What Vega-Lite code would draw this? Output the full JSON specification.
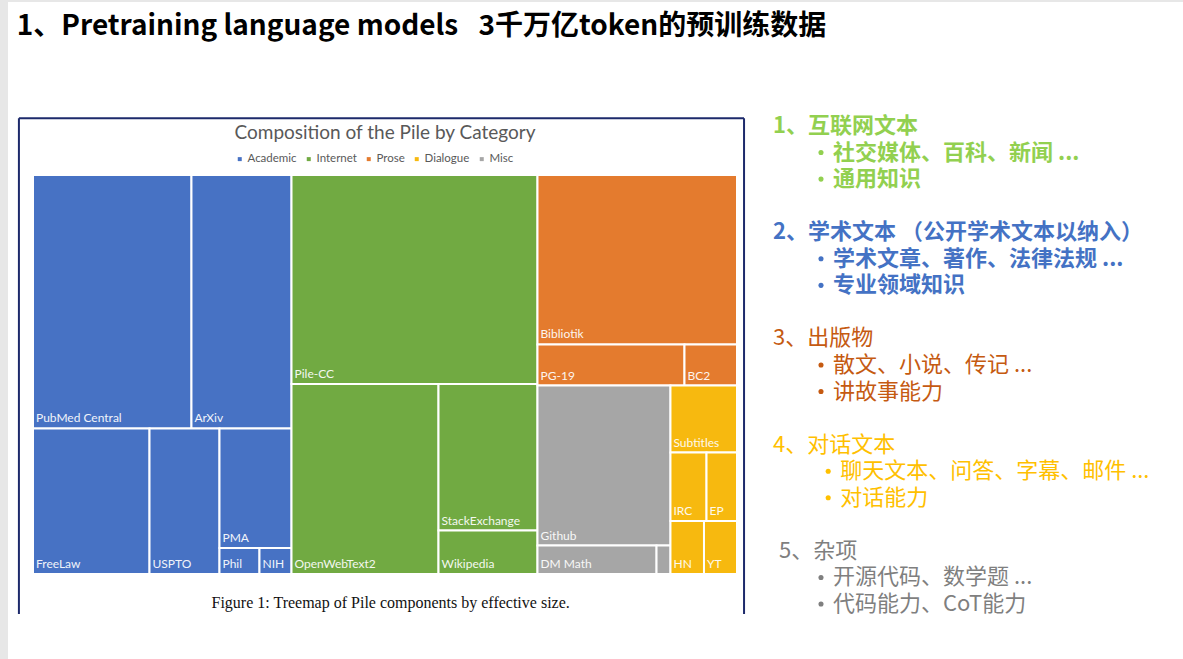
{
  "$schema": "https://vega.github.io/schema/vega-lite/v6.json",
  "width": 1183,
  "height": 659,
  "autosize": {"type": "fit", "contains": "padding"},
  "padding": {"left": 8, "top": 2, "right": 0, "bottom": 0},
  "background": "#e7e7e7",
  "config": {"view": {"stroke": null, "fill": "white"}},
  "datasets": {
    "cells": [
      {"name": "PubMed Central", "cat": "Academic", "x0": 0, "x1": 22.51, "y0": 0, "y1": 63.53},
      {"name": "ArXiv", "cat": "Academic", "x0": 22.51, "x1": 36.72, "y0": 0, "y1": 63.53},
      {"name": "FreeLaw", "cat": "Academic", "x0": 0, "x1": 16.55, "y0": 63.53, "y1": 100},
      {"name": "USPTO", "cat": "Academic", "x0": 16.55, "x1": 26.49, "y0": 63.53, "y1": 100},
      {"name": "PMA", "cat": "Academic", "x0": 26.49, "x1": 36.72, "y0": 63.53, "y1": 93.48},
      {"name": "Phil", "cat": "Academic", "x0": 26.49, "x1": 32.17, "y0": 93.48, "y1": 100},
      {"name": "NIH", "cat": "Academic", "x0": 32.17, "x1": 36.72, "y0": 93.48, "y1": 100},
      {"name": "Pile-CC", "cat": "Internet", "x0": 36.72, "x1": 71.66, "y0": 0, "y1": 52.38},
      {"name": "OpenWebText2", "cat": "Internet", "x0": 36.72, "x1": 57.6, "y0": 52.38, "y1": 100},
      {"name": "StackExchange", "cat": "Internet", "x0": 57.6, "x1": 71.66, "y0": 52.38, "y1": 89.1},
      {"name": "Wikipedia", "cat": "Internet", "x0": 57.6, "x1": 71.66, "y0": 89.1, "y1": 100},
      {"name": "Bibliotik", "cat": "Prose", "x0": 71.66, "x1": 100, "y0": 0, "y1": 42.48},
      {"name": "PG-19", "cat": "Prose", "x0": 71.66, "x1": 92.54, "y0": 42.48, "y1": 52.76},
      {"name": "BC2", "cat": "Prose", "x0": 92.54, "x1": 100, "y0": 42.48, "y1": 52.76},
      {"name": "Github", "cat": "Misc", "x0": 71.66, "x1": 90.55, "y0": 52.76, "y1": 92.86},
      {"name": "DM Math", "cat": "Misc", "x0": 71.66, "x1": 88.57, "y0": 92.86, "y1": 100},
      {"name": "", "cat": "Misc", "x0": 88.57, "x1": 90.55, "y0": 92.86, "y1": 100},
      {"name": "Subtitles", "cat": "Dialogue", "x0": 90.55, "x1": 100, "y0": 52.76, "y1": 69.55},
      {"name": "IRC", "cat": "Dialogue", "x0": 90.55, "x1": 95.67, "y0": 69.55, "y1": 86.72},
      {"name": "EP", "cat": "Dialogue", "x0": 95.67, "x1": 100, "y0": 69.55, "y1": 86.72},
      {"name": "HN", "cat": "Dialogue", "x0": 90.55, "x1": 95.31, "y0": 86.72, "y1": 100},
      {"name": "YT", "cat": "Dialogue", "x0": 95.31, "x1": 100, "y0": 86.72, "y1": 100}
    ],
    "notes": [
      {"grp": 1, "line": 0, "ind": 0, "txt": "1、互联网文本"},
      {"grp": 1, "line": 1, "ind": 1, "txt": "社交媒体、百科、新闻 ..."},
      {"grp": 1, "line": 2, "ind": 1, "txt": "通用知识"},
      {"grp": 2, "line": 4, "ind": 0, "txt": "2、学术文本 （公开学术文本以纳入）"},
      {"grp": 2, "line": 5, "ind": 1, "txt": "学术文章、著作、法律法规 ..."},
      {"grp": 2, "line": 6, "ind": 1, "txt": "专业领域知识"},
      {"grp": 3, "line": 8, "ind": 0, "txt": "3、出版物"},
      {"grp": 3, "line": 9, "ind": 1, "txt": "散文、小说、传记 ..."},
      {"grp": 3, "line": 10, "ind": 1, "txt": "讲故事能力"},
      {"grp": 4, "line": 12, "ind": 0, "txt": "4、对话文本"},
      {"grp": 4, "line": 13, "ind": 1.12, "txt": "聊天文本、问答、字幕、邮件 ..."},
      {"grp": 4, "line": 14, "ind": 1.12, "txt": "对话能力"},
      {"grp": 5, "line": 16, "ind": 0.1, "txt": "5、杂项"},
      {"grp": 5, "line": 17, "ind": 1, "txt": "开源代码、数学题 ..."},
      {"grp": 5, "line": 18, "ind": 1, "txt": "代码能力、CoT能力"}
    ]
  },
  "layer": [
    {
      "layer": [
        {
          "data": {"name": "cells"},
          "mark": {"type": "rect", "stroke": "white", "strokeWidth": 2},
          "encoding": {
            "x": {"field": "x0", "type": "quantitative", "scale": {"domain": [0, 100], "range": [25, 729], "nice": false, "zero": false}, "axis": null},
            "x2": {"field": "x1"},
            "y": {"field": "y0", "type": "quantitative", "scale": {"domain": [0, 100], "range": [173, 572], "nice": false, "zero": false}, "axis": null},
            "y2": {"field": "y1"},
            "color": {
              "field": "cat",
              "type": "nominal",
              "scale": {"domain": ["Academic", "Internet", "Prose", "Dialogue", "Misc"], "range": ["#4772C4", "#71AA42", "#E47B2E", "#F7B90F", "#A6A6A6"]},
              "legend": {
                "orient": "none",
                "legendX": 226,
                "legendY": 151,
                "direction": "horizontal",
                "title": null,
                "symbolType": "square",
                "symbolSize": 16,
                "symbolStrokeWidth": 0,
                "labelFont": "Lato",
                "labelFontSize": 11.5,
                "labelColor": "#595959",
                "labelOffset": 2,
                "columnPadding": 6
              }
            }
          }
        },
        {
          "data": {"name": "cells"},
          "mark": {"type": "text", "align": "left", "baseline": "alphabetic", "dx": 3, "dy": -6, "font": "Lato", "fontSize": 12, "color": "white", "opacity": 0.92},
          "encoding": {
            "x": {"field": "x0", "type": "quantitative", "scale": {"domain": [0, 100], "range": [25, 729], "nice": false, "zero": false}, "axis": null},
            "y": {"field": "y1", "type": "quantitative", "scale": {"domain": [0, 100], "range": [173, 572], "nice": false, "zero": false}, "axis": null},
            "text": {"field": "name"}
          }
        },
        {
          "data": {"values": [{"t": "1、Pretraining language models\u2002 3千万亿token的预训练数据"}]},
          "mark": {"type": "text", "align": "left", "baseline": "middle", "font": "Noto Sans CJK SC", "fontSize": 28, "fontWeight": "bold", "color": "#000000"},
          "encoding": {
            "x": {"datum": -2.3, "type": "quantitative", "scale": {"domain": [0, 100], "range": [25, 729], "nice": false, "zero": false}, "axis": null},
            "y": {"datum": -37.1, "type": "quantitative", "scale": {"domain": [0, 100], "range": [173, 572], "nice": false, "zero": false}, "axis": null},
            "text": {"field": "t"}
          }
        },
        {
          "data": {"values": [{"t": "Composition of the Pile by Category"}]},
          "mark": {"type": "text", "align": "center", "baseline": "middle", "font": "Lato", "fontSize": 19, "color": "#595959"},
          "encoding": {
            "x": {"datum": 50, "type": "quantitative", "scale": {"domain": [0, 100], "range": [25, 729], "nice": false, "zero": false}, "axis": null},
            "y": {"datum": -10.5, "type": "quantitative", "scale": {"domain": [0, 100], "range": [173, 572], "nice": false, "zero": false}, "axis": null},
            "text": {"field": "t"}
          }
        },
        {
          "data": {"values": [{"t": "Figure 1: Treemap of Pile components by effective size."}]},
          "mark": {"type": "text", "align": "center", "baseline": "middle", "font": "Liberation Serif", "fontSize": 16, "color": "#111111"},
          "encoding": {
            "x": {"datum": 50.8, "type": "quantitative", "scale": {"domain": [0, 100], "range": [25, 729], "nice": false, "zero": false}, "axis": null},
            "y": {"datum": 107.3, "type": "quantitative", "scale": {"domain": [0, 100], "range": [173, 572], "nice": false, "zero": false}, "axis": null},
            "text": {"field": "t"}
          }
        },
        {
          "data": {"values": [{}]},
          "mark": {"type": "rule", "color": "#1d2a6b", "strokeWidth": 2},
          "encoding": {
            "x": {"datum": -2.0, "type": "quantitative", "scale": {"domain": [0, 100], "range": [25, 729], "nice": false, "zero": false}, "axis": null},
            "y": {"datum": -14.2, "type": "quantitative", "scale": {"domain": [0, 100], "range": [173, 572], "nice": false, "zero": false}, "axis": null},
            "y2": {"datum": 110}
          }
        },
        {
          "data": {"values": [{}]},
          "mark": {"type": "rule", "color": "#1d2a6b", "strokeWidth": 2},
          "encoding": {
            "x": {"datum": 101.0, "type": "quantitative", "scale": {"domain": [0, 100], "range": [25, 729], "nice": false, "zero": false}, "axis": null},
            "y": {"datum": -14.2, "type": "quantitative", "scale": {"domain": [0, 100], "range": [173, 572], "nice": false, "zero": false}, "axis": null},
            "y2": {"datum": 110}
          }
        },
        {
          "data": {"values": [{}]},
          "mark": {"type": "rule", "color": "#1d2a6b", "strokeWidth": 2},
          "encoding": {
            "x": {"datum": -2.0, "type": "quantitative", "scale": {"domain": [0, 100], "range": [25, 729], "nice": false, "zero": false}, "axis": null},
            "x2": {"datum": 101.0},
            "y": {"datum": -14.2, "type": "quantitative", "scale": {"domain": [0, 100], "range": [173, 572], "nice": false, "zero": false}, "axis": null}
          }
        }
      ]
    },
    {
      "data": {"name": "notes"},
      "encoding": {
        "x": {"field": "ind", "type": "quantitative", "scale": {"domain": [0, 1], "range": [765, 825], "nice": false, "zero": false}, "axis": null},
        "y": {"field": "line", "type": "quantitative", "scale": {"domain": [0, 18], "range": [124, 602], "nice": false, "zero": false}, "axis": null},
        "color": {"field": "grp", "type": "nominal", "scale": {"domain": [1, 2, 3, 4, 5], "range": ["#92D050", "#4472C4", "#C55A11", "#FFC000", "#7F7F7F"]}, "legend": null}
      },
      "layer": [
        {
          "transform": [{"filter": "datum.grp <= 2"}],
          "mark": {"type": "text", "align": "left", "baseline": "middle", "font": "Noto Sans CJK SC", "fontSize": 22, "fontWeight": "bold"},
          "encoding": {"text": {"field": "txt"}}
        },
        {
          "transform": [{"filter": "datum.grp > 2"}],
          "mark": {"type": "text", "align": "left", "baseline": "middle", "font": "Noto Sans CJK SC", "fontSize": 22},
          "encoding": {"text": {"field": "txt"}}
        },
        {
          "transform": [{"filter": "datum.ind >= 1"}],
          "mark": {"type": "circle", "xOffset": -12, "yOffset": 0, "size": 26, "opacity": 1},
          "encoding": {}
        }
      ]
    }
  ],
  "resolve": {"scale": {"x": "independent", "y": "independent", "color": "independent"}}
}
